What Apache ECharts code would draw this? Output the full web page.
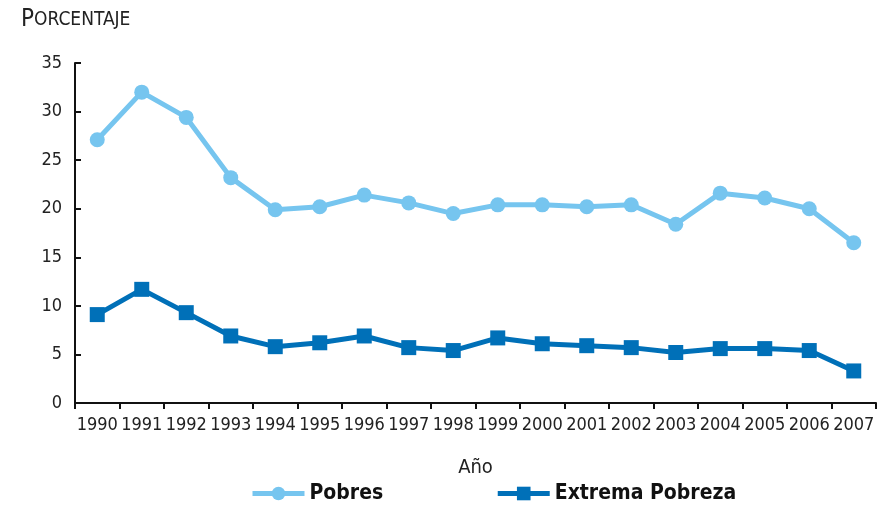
<!DOCTYPE html>
<html><head><meta charset="utf-8">
<script src="https://cdn.jsdelivr.net/npm/echarts@6/dist/echarts.min.js"></script>
<style>html,body{margin:0;padding:0;background:#fff}#c{width:886px;height:511px}</style>
</head><body><div id="c"></div>
<script>
const years = ['1990','1991','1992','1993','1994','1995','1996','1997','1998','1999','2000','2001','2002','2003','2004','2005','2006','2007'];
const pobres = [27.1,32.0,29.4,23.2,19.9,20.2,21.4,20.6,19.5,20.4,20.4,20.2,20.4,18.4,21.6,21.1,20.0,16.5];
const extrema = [9.1,11.7,9.3,6.9,5.8,6.2,6.9,5.7,5.4,6.7,6.1,5.9,5.7,5.2,5.6,5.6,5.4,3.3];
const yTicks = [0,5,10,15,20,25,30,35];
const FONT = '"DejaVu Sans Condensed","Liberation Sans Narrow","Open Sans",sans-serif';
const chart = echarts.init(document.getElementById('c'));
chart.setOption({
  animation:false,
  textStyle:{fontFamily:FONT},
  title:{
    text:'{a|P}{b|ORCENTAJE}', left:16, top:3,
    textStyle:{fontWeight:'normal',rich:{a:{fontSize:24,color:'#222',fontFamily:FONT,fontWeight:'normal'},b:{fontSize:19,color:'#222',fontFamily:FONT,fontWeight:'normal'}}}
  },
  legend:{
    bottom:2, left:245, itemWidth:52, itemHeight:17, itemGap:112,
    textStyle:{fontSize:21,fontWeight:'bold',color:'#111',fontFamily:FONT},
    lineStyle:{width:5},
    data:['Pobres','Extrema Pobreza']
  },
  grid:{left:75,right:10,top:63,bottom:108},
  xAxis:{
    type:'category', data:years, boundaryGap:true,
    name:'Año', nameLocation:'middle', nameGap:55,
    nameTextStyle:{fontSize:20,color:'#222',fontFamily:FONT},
    axisLine:{lineStyle:{color:'#111',width:2}},
    axisTick:{show:true,alignWithLabel:false,length:6,lineStyle:{color:'#111',width:2}},
    axisLabel:{fontSize:18,color:'#222',margin:13,interval:0,fontFamily:FONT}
  },
  yAxis:{
    type:'value', min:yTicks[0], max:yTicks[yTicks.length-1], interval:5,
    axisLine:{show:true,lineStyle:{color:'#111',width:2}},
    axisTick:{show:true,inside:true,length:6,lineStyle:{color:'#111',width:2}},
    splitLine:{show:false},
    axisLabel:{fontSize:18,color:'#222',margin:13,fontFamily:FONT}
  },
  series:[
    {name:'Pobres',type:'line',data:pobres,symbol:'circle',symbolSize:15,
     lineStyle:{color:'#76C5EF',width:5},itemStyle:{color:'#76C5EF'}},
    {name:'Extrema Pobreza',type:'line',data:extrema,symbol:'rect',symbolSize:15,
     lineStyle:{color:'#0070B8',width:5},itemStyle:{color:'#0070B8'}}
  ]
});
</script></body></html>
